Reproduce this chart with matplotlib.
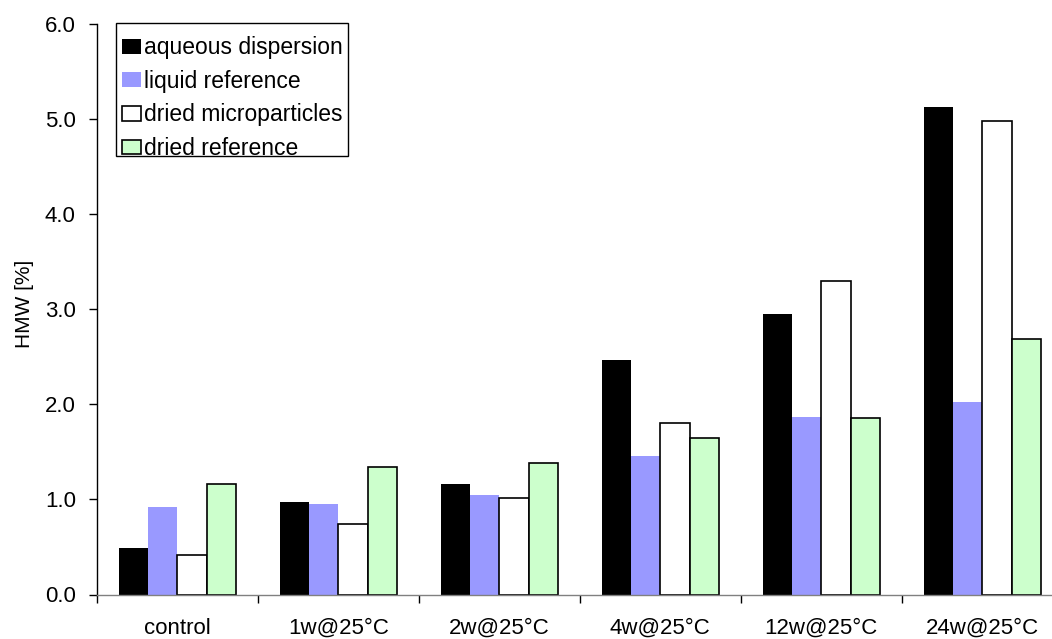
import matplotlib
matplotlib.use("Agg")
import matplotlib.pyplot as plt
from matplotlib.patches import Rectangle
import numpy as np

plt.rcParams['font.family'] = ['Liberation Sans', 'DejaVu Sans']

categories = ["control", "1w@25°C", "2w@25°C", "4w@25°C", "12w@25°C", "24w@25°C"]
series_names = ["aqueous dispersion", "liquid reference", "dried microparticles", "dried reference"]
aqueous_dispersion = [0.49, 0.97, 1.16, 2.47, 2.95, 5.13]
liquid_reference = [0.92, 0.95, 1.05, 1.46, 1.87, 2.02]
dried_microparticles = [0.42, 0.74, 1.02, 1.80, 3.30, 4.98]
dried_reference = [1.16, 1.34, 1.38, 1.65, 1.86, 2.69]
y_ticks = [0.0, 1.0, 2.0, 3.0, 4.0, 5.0, 6.0]

series = [aqueous_dispersion, liquid_reference, dried_microparticles, dried_reference]
faces = ["#000000", "#9999FF", "#FFFFFF", "#CCFFCC"]
edges = ["none", "none", "#000000", "#000000"]

W, H = 1052, 639
fig = plt.figure(figsize=(W / 100, H / 100), dpi=100)
left, right = 96.7, 1062.7
bottom, top = 594.5, 24.0
ax = fig.add_axes([left / W, (H - bottom) / H, (right - left) / W, (bottom - top) / H])

x = np.arange(len(categories))
bw = 0.182
for i, (vals, fc, ec) in enumerate(zip(series, faces, edges)):
    ax.bar(x + (i - 1.5) * bw, vals, width=bw, color=fc, edgecolor=ec,
           linewidth=1.2 if ec != "none" else 0, label=series_names[i], zorder=2)

ax.set_xlim(-0.5, len(categories) - 0.5)
ax.set_ylim(0, 6.0)
ax.set_yticks(y_ticks)
ax.set_yticklabels([f"{v:.1f}" for v in y_ticks])
ax.set_xticks(x)
ax.set_xticklabels(categories)
ax.set_xticks(np.arange(len(categories) + 1) - 0.5, minor=True)
ax.tick_params(axis="x", which="major", length=0, pad=17, labelsize=16)
ax.tick_params(axis="x", which="minor", length=6, width=1, direction="out")
ax.tick_params(axis="y", length=6, width=1, direction="out", labelsize=16, pad=9)

for s in ["top", "right"]:
    ax.spines[s].set_visible(False)
ax.spines["left"].set_linewidth(1)
ax.spines["bottom"].set_linewidth(1)
ax.spines["bottom"].set_color("#808080")

ax.set_ylabel("HMW [%]", fontsize=15)
ax.yaxis.set_label_coords(-0.0645, (bottom - 304) / (bottom - top))

# legend box: a plain rectangle with a tight bottom edge, entries drawn on top
box = Rectangle((115.7 / W, 1 - 155.7 / H), (348 - 115.7) / W, (155.7 - 23.3) / H,
                transform=fig.transFigure, facecolor="white", edgecolor="black",
                linewidth=1, zorder=4)
fig.add_artist(box)
handles, labels = ax.get_legend_handles_labels()
leg = fig.legend(handles, labels, loc="upper left", bbox_to_anchor=(114 / W, 1 - 28.3 / H),
                 fontsize=16.5, frameon=False, borderpad=0.35, labelspacing=0.46,
                 handlelength=0.82, handleheight=0.61, handletextpad=0.15,
                 borderaxespad=0)
leg.set_zorder(5)

fig.savefig("out.png", dpi=100)
